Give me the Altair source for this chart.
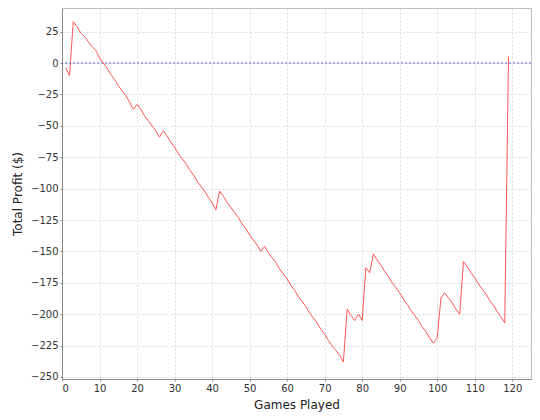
import altair as alt
import pandas as pd

games = list(range(1, 120))
profit = [
    -4, -10, 33, 29, 24, 21, 17, 13, 10, 4,
    0, -4, -9, -13, -18, -22, -26, -31, -37, -33,
    -37, -42, -46, -50, -54, -59, -54, -58, -63, -67,
    -72, -76, -80, -85, -89, -94, -98, -102, -107, -111,
    -117, -102, -106, -111, -115, -119, -123, -128, -132, -137,
    -141, -145, -150, -146, -151, -155, -159, -164, -168, -172,
    -177, -181, -186, -190, -194, -199, -203, -207, -212, -216,
    -221, -225, -229, -233, -238, -196, -201, -205, -200, -205,
    -163, -167, -152, -157, -161, -166, -170, -175, -179, -183,
    -188, -192, -197, -201, -205, -210, -214, -219, -223, -219,
    -187, -183, -187, -191, -196, -200, -158, -162, -167, -171,
    -176, -180, -184, -189, -193, -198, -202, -207, 5,
]
x_ticks = list(range(0, 121, 10))
y_ticks = list(range(-250, 26, 25))

df = pd.DataFrame({"game": games, "profit": profit})
zero = pd.DataFrame({"profit": [0]})

xs = alt.Scale(domain=[0, 125], nice=False, zero=False)
ys = alt.Scale(domain=[-251.6, 43.8], nice=False, zero=False)
yaxis = alt.Axis(values=y_ticks, title="Total Profit ($)", format="d", labelOverlap=False)

line = alt.Chart(df).mark_line(color="#FF5555", strokeWidth=1).encode(
    x=alt.X("game:Q", scale=xs,
            axis=alt.Axis(values=x_ticks, title="Games Played", format="d")),
    y=alt.Y("profit:Q", scale=ys, axis=yaxis),
)

rule = alt.Chart(zero).mark_rule(color="#5a5ad8", strokeDash=[2, 2], strokeWidth=1).encode(
    y=alt.Y("profit:Q", scale=ys, axis=yaxis)
)

chart = alt.layer(line, rule).properties(
    width=469,
    height=371,
    autosize=alt.AutoSizeParams(type="none"),
    padding={"left": 54, "top": 0, "right": 1, "bottom": 33},
    background="white",
).configure_view(
    stroke="#c0c0c0", strokeWidth=1,
).configure_axis(
    grid=True,
    gridColor="#d8d8d8",
    gridDash=[2, 2],
    gridWidth=1,
    domainColor="#888888",
    tickColor="#888888",
    tickSize=2,
    labelOverlap=False,
    labelFont="DejaVu Sans",
    labelFontSize=10,
    labelColor="#333333",
    labelPadding=2,
    titleFont="DejaVu Sans",
    titleFontSize=12,
    titleFontWeight="normal",
    titleColor="#222222",
).configure_axisY(
    titlePadding=6,
).configure_axisX(
    titlePadding=6,
)

chart.save("out.html", embed_options={"renderer": "svg", "actions": False})
